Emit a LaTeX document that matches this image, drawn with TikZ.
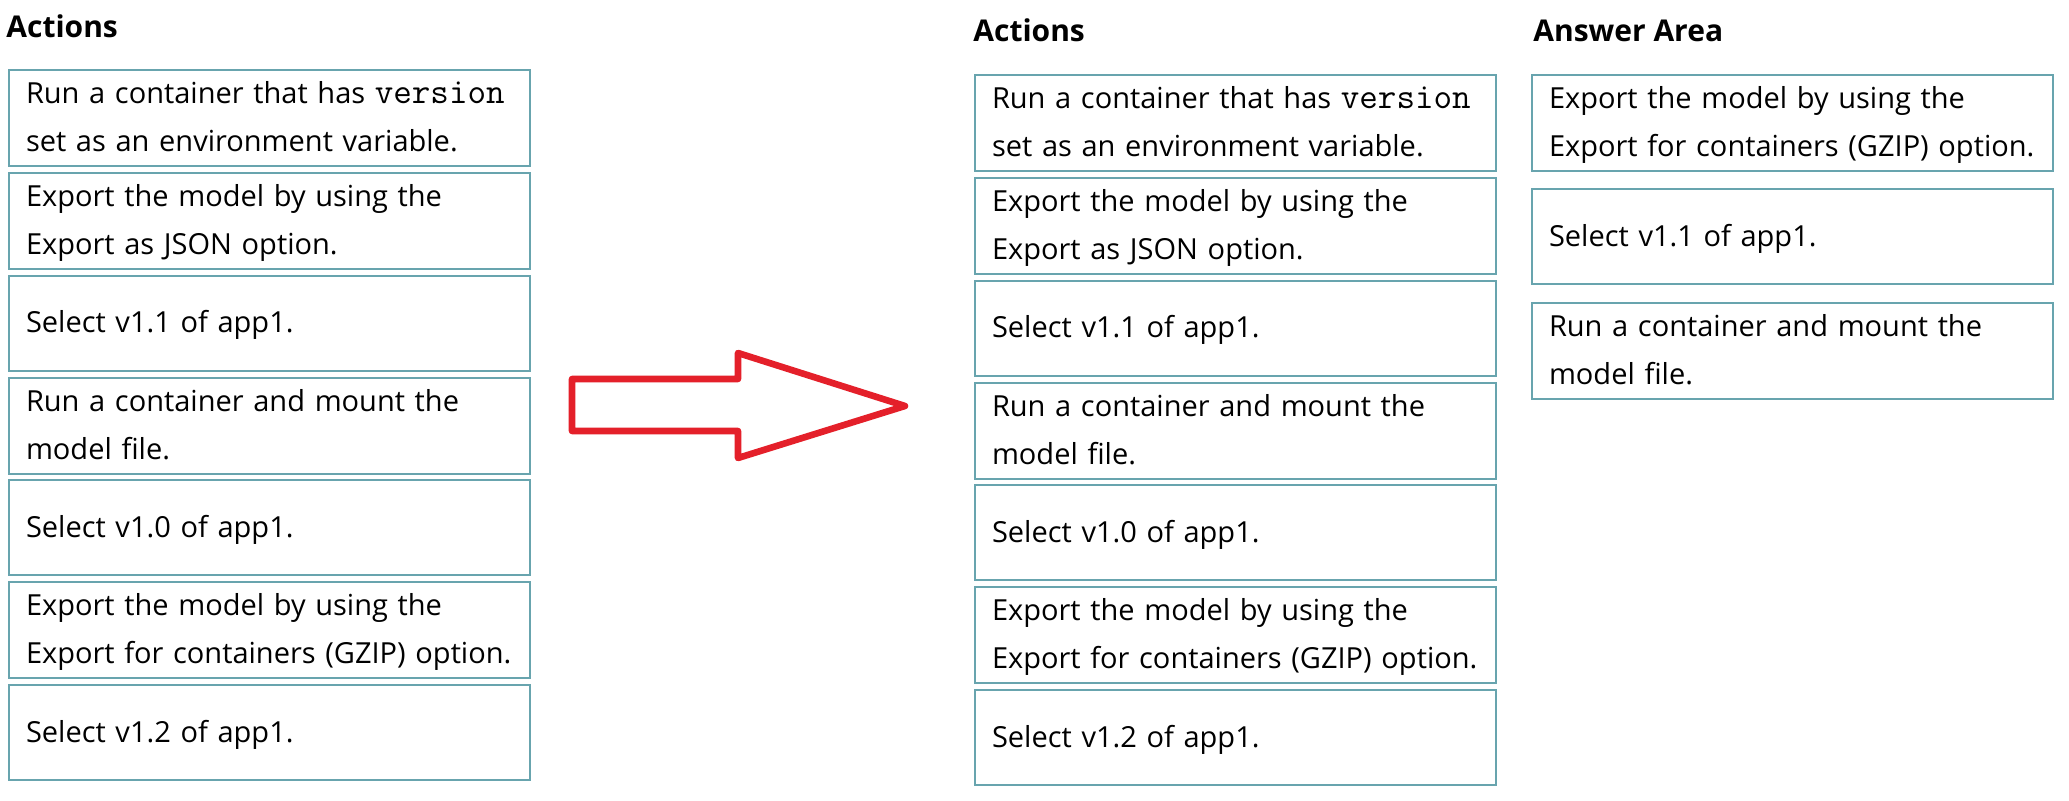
\documentclass[tikz,border=0pt]{standalone}
\usepackage{fontspec}
\setmainfont{Open Sans}
\usetikzlibrary{positioning}

\definecolor{boxteal}{RGB}{104,164,174}
\definecolor{arrowred}{RGB}{228,32,42}

\newcommand{\bodyfont}{\fontsize{14.5}{24}\selectfont}
\newcommand{\headfont}{\fontsize{15}{18}\selectfont\bfseries}
\newcommand{\mono}[1]{{\ttfamily\fontsize{18}{24}\selectfont #1}}

\begin{document}
\begin{tikzpicture}[x=0.5pt, y=-0.5pt,
		actbox/.style={draw=boxteal, line width=1pt, outer sep=0pt,
			inner xsep=8.5pt, inner ysep=0pt,
			minimum width=260.5pt, minimum height=47.5pt,
			text width=243.5pt, align=left, font=\bodyfont,
			execute at begin node=\strut, execute at end node=\strut},
		heading/.style={anchor=base west, inner sep=0pt, font=\headfont},
		node distance=3.42pt]
	
	\useasboundingbox (0,0) rectangle (2069,801);
	
	\node [heading] (hl) at (6,38) {Actions};
	\node [heading] (hm) at (973,42) {Actions};
	\node [heading] (ha) at (1533,42) {Answer Area};
	
	% the two action lists
	\foreach \col/\x/\y in {l/9/70, m/975/75}
	{
		\node [actbox, anchor=north west] (\col1) at (\x,\y)
			{Run a container that has \mono{version}\\set as an environment variable.};
		\node [actbox, below=of \col1] (\col2) {Export the model by using the\\Export as JSON option.};
		\node [actbox, below=of \col2] (\col3) {Select v1.1 of app1.};
		\node [actbox, below=of \col3] (\col4) {Run a container and mount the\\model file.};
		\node [actbox, below=of \col4] (\col5) {Select v1.0 of app1.};
		\node [actbox, below=of \col5] (\col6) {Export the model by using the\\Export for containers (GZIP) option.};
		\node [actbox, below=of \col6] (\col7) {Select v1.2 of app1.};
	}
	
	% answer area
	\node [actbox, anchor=north west] (a1) at (1532,75)
		{Export the model by using the\\Export for containers (GZIP) option.};
	\node [actbox, below=9.25pt of a1] (a2) {Select v1.1 of app1.};
	\node [actbox, below=9.25pt of a2] (a3) {Run a container and mount the\\model file.};
	
	\draw [arrowred, line width=3.3pt, line join=round]
		(572,379) -- (738,379) -- (738,353) -- (905,406)
		-- (738,458) -- (738,431) -- (572,431) -- cycle;
\end{tikzpicture}
\end{document}
